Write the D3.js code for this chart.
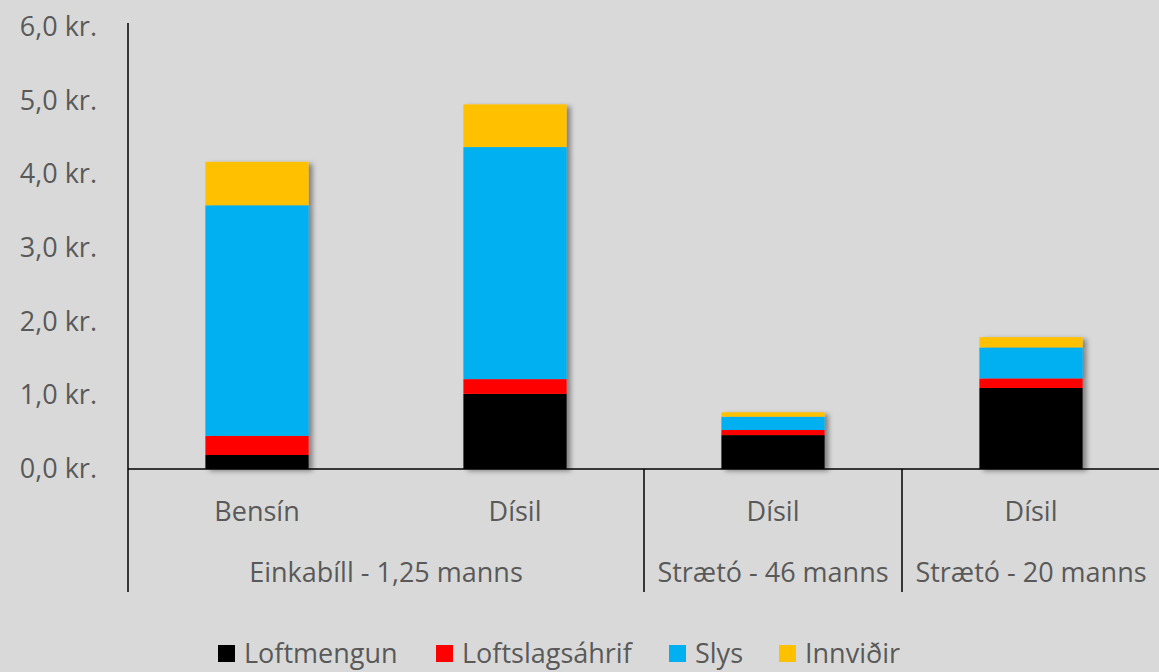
<!DOCTYPE html>
<html>
<head>
<meta charset="utf-8">
<script src="https://cdn.jsdelivr.net/npm/d3@7"></script>
<style>
    body { margin: 0; background: #d9d9d9; }
    svg { display: block; font-family: "Open Sans", sans-serif; }
    .lbl { fill: #595959; font-size: 27px; font-family: "Open Sans", sans-serif; }
</style>
</head>
<body>
<svg id="chart" width="1159" height="672"></svg>
<script>
// gogn
var fuels = ["Bensín", "Dísil", "Dísil", "Dísil"];
var groups = ["Einkabíll - 1,25 manns", "Strætó - 46 manns", "Strætó - 20 manns"];
var groupOf = [0, 0, 1, 2];
var seriesNames = ["Loftmengun", "Loftslagsáhrif", "Slys", "Innviðir"];
var loftmengun = [0.19, 1.02, 0.46, 1.10];
var loftslag = [0.26, 0.20, 0.07, 0.13];
var slys = [3.13, 3.15, 0.18, 0.42];
var innvidir = [0.59, 0.58, 0.06, 0.14];
var yTicks = [0, 1, 2, 3, 4, 5, 6];
var colors = ["#000000", "#ff0000", "#00b0f0", "#ffc000"];

var rows = fuels.map(function (f, i) {
    return {i: i, Loftmengun: loftmengun[i], "Loftslagsáhrif": loftslag[i], Slys: slys[i], "Innviðir": innvidir[i]};
});

var svg = d3.select("#chart");
var left = 128, right = 1160, base = 469;

var x = d3.scaleBand().domain(d3.range(fuels.length)).range([left, right]).paddingInner(0.6).paddingOuter(0.3);
var y = d3.scaleLinear().domain([0, 6]).range([base, 27]);
var color = d3.scaleOrdinal().domain(seriesNames).range(colors);

var defs = svg.append("defs");
defs.append("filter").attr("id", "shadow").attr("x", "-20%").attr("y", "-20%").attr("width", "150%").attr("height", "150%")
    .append("feDropShadow").attr("dx", 4).attr("dy", 2).attr("stdDeviation", 2.5)
    .attr("flood-color", "#000").attr("flood-opacity", 0.4);

// staflar
var stacked = d3.stack().keys(seriesNames)(rows);
var barG = svg.append("g").attr("filter", "url(#shadow)");
barG.selectAll("g").data(stacked).join("g")
    .attr("fill", function (d) { return color(d.key); })
    .selectAll("rect").data(function (d) { return d; }).join("rect")
    .attr("x", function (d) { return x(d.data.i); })
    .attr("width", x.bandwidth())
    .attr("y", function (d) { return y(d[1]); })
    .attr("height", function (d) { return y(d[0]) - y(d[1]); });

// y-as
var yAxis = d3.axisLeft(y).tickValues(yTicks).tickSize(0).tickPadding(31)
    .tickFormat(function (d) { return d3.format(".1f")(d).replace(".", ",") + " kr."; });
var yg = svg.append("g").attr("transform", "translate(" + left + ",0)").call(yAxis)
    .attr("font-family", null).attr("font-size", null);
yg.select(".domain").remove();
yg.selectAll("text").attr("class", "lbl");

// as-linur
var lineG = svg.append("g").attr("stroke", "#000").attr("stroke-width", 1.5);
lineG.append("line").attr("x1", left).attr("x2", left).attr("y1", 23).attr("y2", 592);
lineG.append("line").attr("x1", left).attr("x2", 1159).attr("y1", base).attr("y2", base);

// hopar
var spans = groups.map(function (g, gi) {
    var idx = d3.range(fuels.length).filter(function (i) { return groupOf[i] === gi; });
    var x0 = x(idx[0]) - x.step() * x.paddingInner() / 2;
    var x1 = x(idx[idx.length - 1]) + x.bandwidth() + x.step() * x.paddingInner() / 2;
    return {name: g, x0: x0, x1: x1};
});
lineG.selectAll("line.sep").data(spans.slice(1)).join("line").attr("class", "sep")
    .attr("x1", function (d) { return d.x0; }).attr("x2", function (d) { return d.x0; })
    .attr("y1", base).attr("y2", 592);

svg.selectAll("text.fuel").data(fuels).join("text").attr("class", "fuel lbl")
    .attr("x", function (d, i) { return x(i) + x.bandwidth() / 2; })
    .attr("y", 521).attr("text-anchor", "middle").text(function (d) { return d; });

svg.selectAll("text.grp").data(spans).join("text").attr("class", "grp lbl")
    .attr("x", function (d) { return (d.x0 + d.x1) / 2; })
    .attr("y", 582).attr("text-anchor", "middle").text(function (d) { return d.name; });

// skyring
var legX = [218, 436, 669, 779];
var leg = svg.selectAll("g.leg").data(seriesNames).join("g").attr("class", "leg")
    .attr("transform", function (d, i) { return "translate(" + legX[i] + ",645)"; });
leg.append("rect").attr("width", 17).attr("height", 17).attr("fill", function (d) { return color(d); });
leg.append("text").attr("class", "lbl").attr("x", 26).attr("y", 18).text(function (d) { return d; });
</script>
</body>
</html>
